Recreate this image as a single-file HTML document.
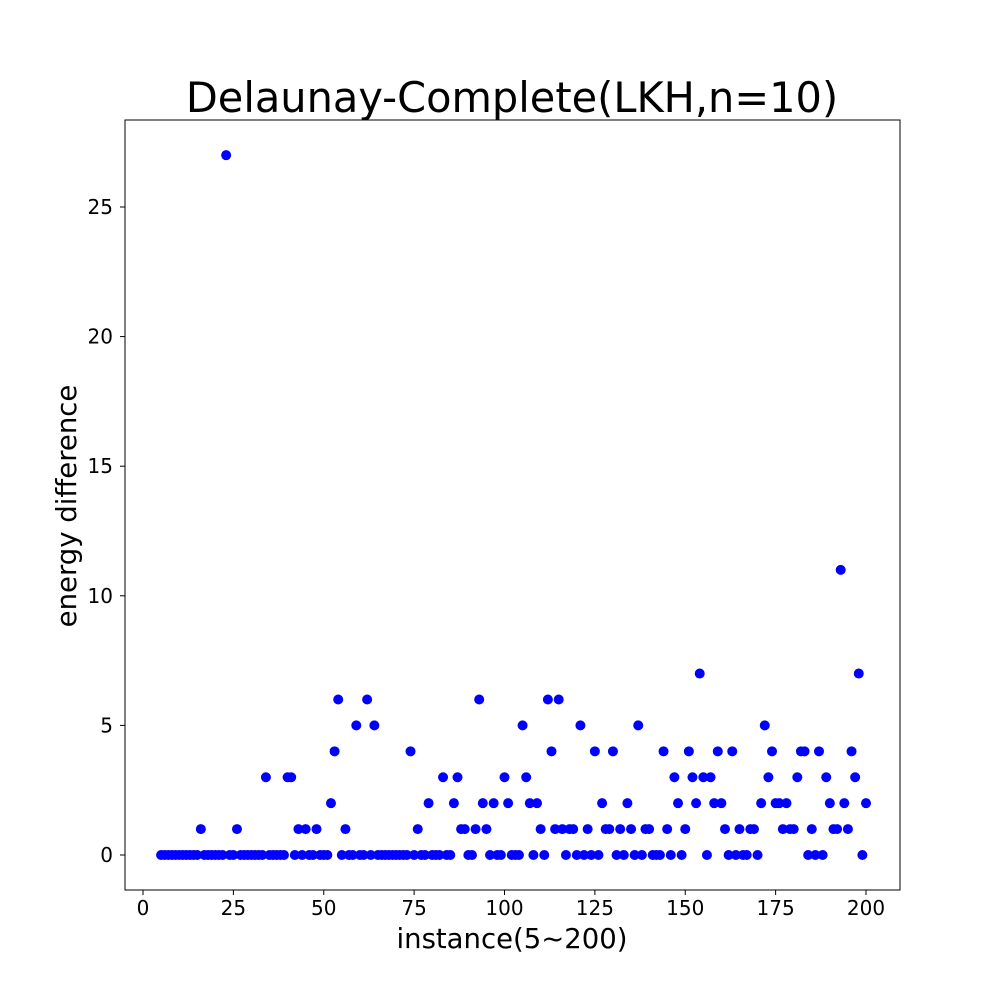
<!DOCTYPE html>
<html><head><meta charset="utf-8"><style>body{margin:0;background:#fff}svg{display:block;font-family:"DejaVu Sans","Liberation Sans",sans-serif}</style></head>
<body>
<svg id="chart" width="1000" height="1000" viewBox="0 0 1000 1000">
<rect width="1000" height="1000" fill="#fff"/>
<text x="512" y="112" font-size="41.5" text-anchor="middle">Delaunay-Complete(LKH,n=10)</text>
<rect x="125" y="120" width="775" height="770" fill="none" stroke="#000" stroke-width="1"/>
<g id="xticks"></g><g id="yticks"></g><g id="points"></g>
<text x="512" y="948" font-size="27.5" text-anchor="middle">instance(5~200)</text>
<text transform="translate(76,506) rotate(-90)" font-size="27.5" text-anchor="middle">energy difference</text>
</svg>
<script>
const xStart = 5;
const values = [0,0,0,0,0,0,0,0,0,0,0,
1,0,0,0,0,0,0,27,0,0,1,0,0,0,0,0,0,0,3,0,0,0,0,0,3,3,0,1,0,1,0,0,1,0,0,0,
2,4,6,0,1,0,0,5,0,0,6,0,5,
0,0,0,0,0,0,0,0,0,
4,0,1,0,0,2,0,0,0,3,0,0,2,3,1,1,0,0,1,6,2,1,0,2,0,0,3,2,0,0,0,5,3,2,0,2,1,0,6,4,1,6,1,0,1,1,0,5,0,1,0,4,0,2,1,1,4,0,1,0,2,1,0,5,0,1,1,0,0,0,4,1,0,3,2,0,1,4,3,2,7,3,0,3,2,4,2,1,0,4,0,1,0,0,1,1,0,2,5,3,4,2,2,1,2,1,1,3,4,4,0,1,0,4,0,3,2,1,1,11,2,1,4,3,7,0,2];
const xTickLabels = [0,25,50,75,100,125,150,175,200];
const yTickLabels = [0,5,10,15,20,25];
const NS='http://www.w3.org/2000/svg';
function xs(v){return 143+v*3.615;}
function ys(v){return 855-v*25.92;}
const xg=document.getElementById('xticks'), yg=document.getElementById('yticks'), pg=document.getElementById('points');
xTickLabels.forEach(t=>{
 const l=document.createElementNS(NS,'line');
 
 
 l.setAttribute('x1',xs(t));l.setAttribute('x2',xs(t));l.setAttribute('y1',890);l.setAttribute('y2',895);l.setAttribute('stroke','#000');
 xg.appendChild(l);
 const tx=document.createElementNS(NS,'text');
 
 
 tx.setAttribute('x',xs(t));tx.setAttribute('y',915);tx.setAttribute('font-size','20');tx.setAttribute('text-anchor','middle');
 tx.textContent=t;xg.appendChild(tx);
});
yTickLabels.forEach(t=>{
 const l=document.createElementNS(NS,'line');
 
 
 l.setAttribute('x1',120);l.setAttribute('x2',125);l.setAttribute('y1',ys(t));l.setAttribute('y2',ys(t));l.setAttribute('stroke','#000');
 yg.appendChild(l);
 const tx=document.createElementNS(NS,'text');
 
 
 tx.setAttribute('x',113);tx.setAttribute('y',ys(t)+7);tx.setAttribute('font-size','20');tx.setAttribute('text-anchor','end');
 tx.textContent=t;yg.appendChild(tx);
});
values.forEach((v,i)=>{
 const c=document.createElementNS(NS,'circle');
 
 
 c.setAttribute('cx',xs(xStart+i));c.setAttribute('cy',ys(v));c.setAttribute('r',5);c.setAttribute('fill','#0000ff');
 pg.appendChild(c);
});
</script>
</body></html>
